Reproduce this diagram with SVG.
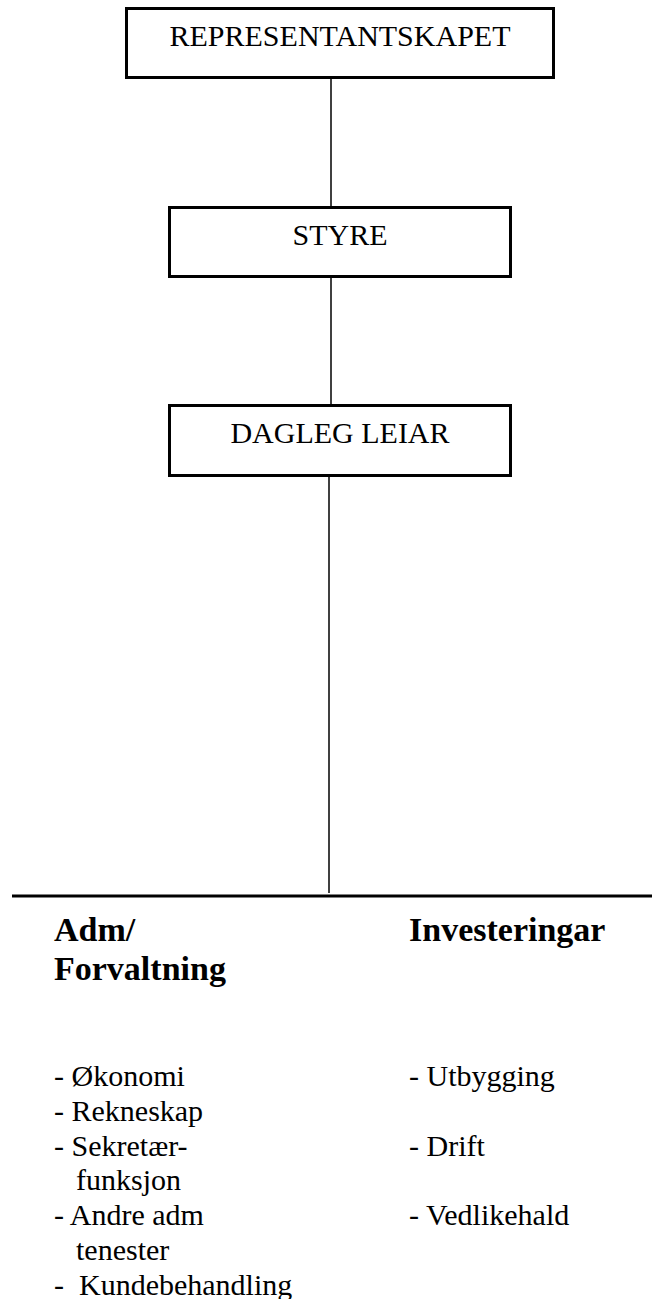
<svg xmlns="http://www.w3.org/2000/svg" width="652" height="1299" viewBox="0 0 652 1299">
<style>
.box{fill:#fff;stroke:#000;stroke-width:3}
.conn{stroke:#000;stroke-width:1.5;fill:none}
.bar{stroke:#000;stroke-width:3}
.t{font-family:"Liberation Serif","Times New Roman",serif;font-size:30px;fill:#000}
.h{font-family:"Liberation Serif","Times New Roman",serif;font-size:34px;font-weight:bold;fill:#000}
.l{font-family:"Liberation Serif","Times New Roman",serif;font-size:30px;fill:#000}
</style>
<rect width="652" height="1299" fill="#fff"/>
<g id="connectors">
<line class="conn" x1="331" y1="79" x2="331" y2="206"/>
<line class="conn" x1="331" y1="278" x2="331" y2="404"/>
<line class="conn" x1="329" y1="477" x2="329" y2="893"/>
<line class="bar" x1="12" y1="896" x2="652" y2="896"/>
</g>
<g id="representantskapet">
<rect class="box" x="126.5" y="8.5" width="427" height="69"/>
<text class="t" x="340" y="46" text-anchor="middle">REPRESENTANTSKAPET</text>
</g>
<g id="styre">
<rect class="box" x="169.5" y="207.5" width="341" height="69"/>
<text class="t" x="340" y="245" text-anchor="middle">STYRE</text>
</g>
<g id="dagleg-leiar">
<rect class="box" x="169.5" y="405.5" width="341" height="70"/>
<text class="t" x="340" y="443" text-anchor="middle">DAGLEG LEIAR</text>
</g>
<g id="adm-forvaltning">
<text class="h" x="54" y="941">Adm/</text>
<text class="h" x="54" y="980">Forvaltning</text>
<text class="l" x="54" y="1086">- Økonomi</text>
<text class="l" x="54" y="1121">- Rekneskap</text>
<text class="l" x="54" y="1155.5">- Sekretær-</text>
<text class="l" x="76" y="1190">funksjon</text>
<text class="l" x="54" y="1225">- Andre adm</text>
<text class="l" x="76" y="1260">tenester</text>
<text class="l" x="54" y="1294.5" xml:space="preserve">-  Kundebehandling</text>
</g>
<g id="investeringar">
<text class="h" x="409" y="941">Investeringar</text>
<text class="l" x="409" y="1086">- Utbygging</text>
<text class="l" x="409" y="1156">- Drift</text>
<text class="l" x="409" y="1225">- Vedlikehald</text>
</g>
</svg>
